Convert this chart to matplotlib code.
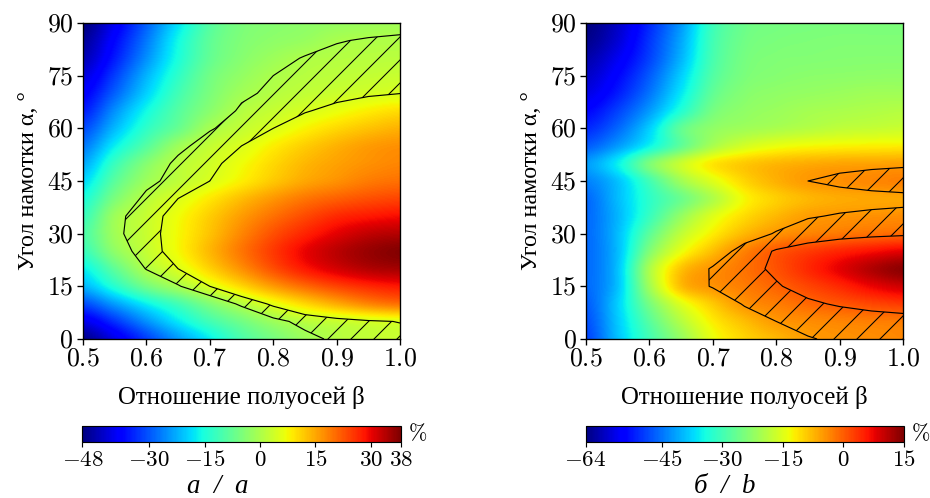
import matplotlib
matplotlib.use('Agg')
import matplotlib.pyplot as plt
import numpy as np

# beta grid (columns) and alpha grid (rows), deviations in %
beta = [0.50, 0.55, 0.60, 0.65, 0.70, 0.75, 0.80, 0.85, 0.90, 0.95, 1.00]
alpha = [0, 5, 10, 15, 20, 25, 30, 35, 40, 45, 50, 55, 60, 65, 70, 75, 80, 85, 90]

dev_a = [
  [-47, -40, -32, -24, -17, -10, -5.5, -1.5, 1.0, 2.3, 3.0],
  [-40, -33, -25, -17.5, -11, -6, -1.5, 1.5, 3.0, 4.3, 5.2],
  [-31, -24, -17, -11, -4.5, 1.0, 6.0, 10.5, 14.5, 18, 20],
  [-22, -14, -6, -0.5, 5, 10.5, 16, 20.5, 24, 26.5, 28],
  [-17, -8, 0.3, 5, 11, 17, 23, 28, 31.5, 34, 35],
  [-12, -3, 2.5, 7.5, 13.5, 19.5, 25, 30, 33.5, 36, 37.5],
  [-10, -1.2, 3, 7.5, 12.5, 18, 23, 27, 30.5, 33, 34],
  [-12, -1.5, 2.8, 7, 11.5, 16, 20, 23.5, 26.5, 28, 29],
  [-15, -5, 1.3, 5, 9, 13, 16.5, 19.5, 21.5, 23, 24],
  [-19, -8.5, -1.5, 2, 5, 8.5, 12, 15, 17, 19, 20],
  [-23, -12, -4, 1.3, 3.8, 7, 10.5, 13.5, 15.5, 17, 18],
  [-27, -17, -9, -1.5, 2.5, 5, 8.5, 11.5, 14, 16, 17],
  [-31, -21.5, -13, -7, -0.5, 2.5, 5, 8, 10.5, 12.5, 14],
  [-35, -25, -16, -9, -3.5, 0.8, 2.8, 4.6, 6.5, 8.5, 10],
  [-38, -29, -19.5, -11, -5, -1, 1.0, 2.3, 3.3, 4.2, 4.9],
  [-41, -32, -22, -13, -6, -2.5, 0, 1.2, 1.9, 2.5, 3.0],
  [-44, -35, -25, -15, -7.5, -3.8, -1.5, 0.3, 0.9, 1.3, 1.5],
  [-46, -37, -27, -16, -8, -4.5, -3, -2, -0.2, 0.3, 0.5],
  [-48, -39, -29, -18, -9, -5, -3.8, -3, -2.2, -1.5, -1.0],
]

dev_b = [
  [-49, -39, -30, -22, -14, -10, -7.5, -5.2, -4.5, -4.0, -3.5],
  [-48, -38.5, -28, -19, -12, -8, -5, -4, -3.3, -2.8, -2.5],
  [-47, -38, -25, -15, -9, -4.5, -2.7, -0.9, 0.6, 1.9, 3.0],
  [-46, -39, -21, -8, -4.6, -2.6, -0.5, 2, 4.5, 7.5, 9.5],
  [-46, -39, -20, -8.5, -4.5, -1.8, 1, 4.5, 8, 11.5, 14],
  [-46, -39.5, -24, -14, -8, -3, 0.5, 2.8, 4.8, 6.5, 8],
  [-46, -39.5, -27.5, -18, -12, -7.5, -4.6, -3.2, -2.2, -1.5, -1.0],
  [-46, -40, -31, -22, -15, -10.5, -7.5, -5.3, -4.7, -4.3, -4.0],
  [-46, -39.5, -32, -26, -19.5, -12.8, -9.5, -7.5, -6.5, -6.2, -6.0],
  [-44, -39, -30, -21, -15, -10, -7, -5, -4.2, -3.5, -3.0],
  [-42, -35.5, -24.5, -17, -11.5, -9, -7.5, -6.6, -6.0, -5.8, -5.6],
  [-47, -42, -35, -27, -20, -16, -14, -13, -12.5, -12.2, -12],
  [-51, -46, -38, -27, -22.5, -21, -20, -19, -18, -17.5, -17],
  [-54, -49, -42, -33, -25, -22.5, -21.5, -20.5, -20, -19.5, -19],
  [-57, -52, -45, -36, -27, -23.5, -22.5, -22, -21.5, -21, -21],
  [-59, -54, -47, -38, -28.5, -24.5, -23.5, -23, -22.8, -22.6, -22.5],
  [-61, -56, -49, -40, -29.5, -25, -24, -23.8, -23.6, -23.5, -23.5],
  [-63, -58, -50, -41, -30, -25.5, -24.5, -24.2, -24, -24, -24],
  [-64, -59, -51, -42, -30.5, -26, -25, -24.7, -24.5, -24.5, -24.5],
]

lims_a = (-48, 38)
lims_b = (-64, 15)
cbar_ticks_a = [-48, -30, -15, 0, 15, 30, 38]
cbar_ticks_b = [-64, -45, -30, -15, 0, 15]
hatch_a = [0, 5]
hatch_b = [-5, 0]
captions = ['а  /  a', 'б  /  b']

DPI = 138
plt.rcParams['font.family'] = ['Liberation Serif', 'DejaVu Serif']
plt.rcParams['mathtext.fontset'] = 'cm'
plt.rcParams['hatch.color'] = 'black'
plt.rcParams['hatch.linewidth'] = 0.55


def fmt(v, pos=None):
  return '$%g$' % v


def panel(fig, left, data, lims, levels, cticks):
  B = np.array(beta)
  A = np.array(alpha)
  Z = np.array(data, dtype=float)
  ax = fig.add_axes([left, 0.3193, 0.341, 0.6345])
  db = (B[1] - B[0]) / 2
  da = (A[1] - A[0]) / 2
  im = ax.imshow(Z, origin='lower', cmap='jet', vmin=lims[0], vmax=lims[1],
                 extent=[B[0] - db, B[-1] + db, A[0] - da, A[-1] + da],
                 aspect='auto', interpolation='catrom')
  ax.contourf(B, A, Z, levels=levels, colors='none', hatches=['//'])
  ax.contour(B, A, Z, levels=levels, colors='k', linewidths=0.6,
             linestyles='solid')
  ax.set_xlim(0.5, 1.0)
  ax.set_ylim(0, 90)
  ax.set_xticks(np.arange(0.5, 1.01, 0.1))
  ax.set_yticks(range(0, 91, 15))
  ax.xaxis.set_major_formatter(plt.FuncFormatter(lambda v, p: '$%.1f$' % v))
  ax.yaxis.set_major_formatter(plt.FuncFormatter(lambda v, p: '$%d$' % v))
  ax.tick_params(labelsize=13.5, direction='out', length=3, width=0.7, pad=2)
  for s in ax.spines.values():
    s.set_linewidth(0.7)
  ax.set_xlabel('Отношение полуосей β', fontsize=13, labelpad=8)
  ax.set_ylabel('Угол намотки α, °', fontsize=12.5, labelpad=4)

  cax = fig.add_axes([left - 0.0005, 0.1124, 0.342, 0.032])
  cb = fig.colorbar(im, cax=cax, orientation='horizontal', ticks=cticks)
  cb.ax.xaxis.set_major_formatter(plt.FuncFormatter(fmt))
  cb.ax.tick_params(labelsize=12, length=2.5, width=0.6, pad=1.5)
  cb.outline.set_linewidth(0.6)
  fig.text(left + 0.3495, 0.1285, r'$\%$', fontsize=11.5, ha='left',
           va='center')
  return ax


fig = plt.figure(figsize=(930 / DPI, 498 / DPI), dpi=DPI)
panel(fig, 0.0892, dev_a, lims_a, hatch_a, cbar_ticks_a)
panel(fig, 0.6301, dev_b, lims_b, hatch_b, cbar_ticks_b)
fig.text(218 / 930, 5 / 498, captions[0], fontsize=14, style='italic',
         ha='center', va='baseline')
fig.text(725 / 930, 5 / 498, captions[1], fontsize=14, style='italic',
         ha='center', va='baseline')

fig.savefig('out.png', dpi=DPI)
